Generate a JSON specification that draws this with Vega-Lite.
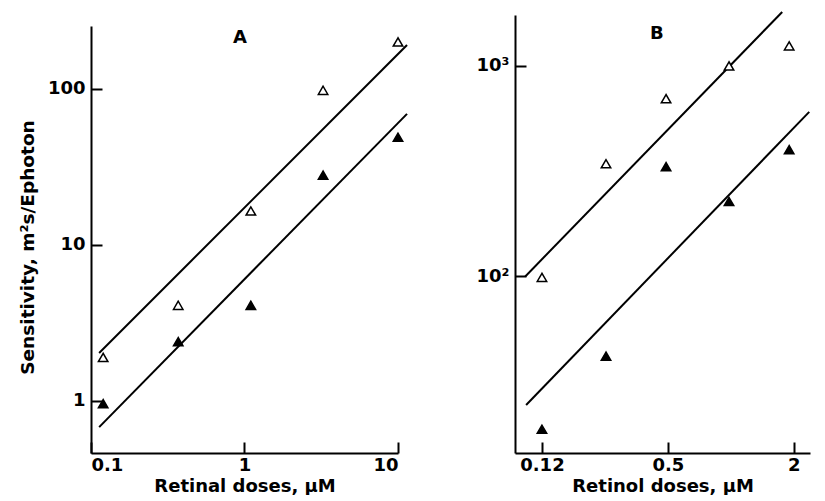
{
  "$schema": "https://vega.github.io/schema/vega-lite/v6.json",
  "background": "white",
  "padding": {"left": 18, "top": 8, "right": 5, "bottom": 0},
  "spacing": 64,
  "datasets": {
    "pointsA": [
      {"dose": 0.12, "sens": 1.9, "type": "open"},
      {"dose": 0.37, "sens": 4.1, "type": "open"},
      {"dose": 1.1, "sens": 16.5, "type": "open"},
      {"dose": 3.25, "sens": 98, "type": "open"},
      {"dose": 10, "sens": 200, "type": "open"},
      {"dose": 0.12, "sens": 0.96, "type": "filled"},
      {"dose": 0.37, "sens": 2.4, "type": "filled"},
      {"dose": 1.1, "sens": 4.1, "type": "filled"},
      {"dose": 3.25, "sens": 28, "type": "filled"},
      {"dose": 10, "sens": 49, "type": "filled"}
    ],
    "linesA": [
      {"dose": 0.113, "sens": 2.03, "fit": "upper"},
      {"dose": 11.45, "sens": 191, "fit": "upper"},
      {"dose": 0.113, "sens": 0.68, "fit": "lower"},
      {"dose": 11.45, "sens": 69.2, "fit": "lower"}
    ],
    "pointsB": [
      {"dose": 0.125, "sens": 99, "type": "open"},
      {"dose": 0.253, "sens": 343, "type": "open"},
      {"dose": 0.49, "sens": 699, "type": "open"},
      {"dose": 0.98, "sens": 1000, "type": "open"},
      {"dose": 1.9, "sens": 1245, "type": "open"},
      {"dose": 0.125, "sens": 18.8, "type": "filled"},
      {"dose": 0.253, "sens": 41.8, "type": "filled"},
      {"dose": 0.49, "sens": 332, "type": "filled"},
      {"dose": 0.98, "sens": 227, "type": "filled"},
      {"dose": 1.9, "sens": 400, "type": "filled"}
    ],
    "linesB": [
      {"dose": 0.104, "sens": 100, "fit": "upper"},
      {"dose": 1.76, "sens": 1803, "fit": "upper"},
      {"dose": 0.105, "sens": 24.5, "fit": "lower"},
      {"dose": 2.37, "sens": 605, "fit": "lower"}
    ],
    "labelA": [{"dose": 0.935, "sens": 212, "label": "A"}],
    "labelB": [{"dose": 0.443, "sens": 1419, "label": "B"}],
    "none": []
  },
  "hconcat": [
    {
      "spacing": 0,
      "vconcat": [
        {
          "width": 307,
          "height": 11,
          "data": {"name": "none"},
          "mark": {"type": "point", "opacity": 0},
          "encoding": {}
        },
        {
          "width": 307,
          "height": 427,
          "encoding": {
            "x": {"field": "dose", "type": "quantitative",
              "scale": {"type": "log", "domain": [0.1, 10], "nice": false},
              "axis": {"values": [0.1, 1, 10], "format": "~g", "title": "Retinal doses, μM"}},
            "y": {"field": "sens", "type": "quantitative",
              "scale": {"type": "log", "domain": [0.464, 253], "nice": false},
              "axis": {"values": [1, 10, 100], "format": "~g", "title": "Sensitivity, m²s/Ephoton", "titleY": 221}}
          },
          "layer": [
            {"data": {"name": "linesA"}, "mark": {"type": "line", "color": "black", "strokeWidth": 2, "clip": false},
             "encoding": {"detail": {"field": "fit"}}},
            {"data": {"name": "pointsA"}, "mark": {"type": "point", "shape": "triangle-up", "filled": true, "size": 90, "stroke": "black", "strokeWidth": 1.5, "opacity": 1},
             "encoding": {"fill": {"field": "type", "type": "nominal", "scale": {"domain": ["open", "filled"], "range": ["white", "black"]}, "legend": null}}},
            {"data": {"name": "labelA"}, "mark": {"type": "text", "font": "DejaVu Sans", "fontWeight": "bold", "fontSize": 18, "color": "black"},
             "encoding": {"text": {"field": "label"}}}
          ]
        }
      ]
    },
    {
      "width": 295,
      "height": 438,
      "encoding": {
        "x": {"field": "dose", "type": "quantitative",
          "scale": {"type": "log", "domain": [0.0929, 2.39], "nice": false},
          "axis": {"values": [0.125, 0.5, 2], "labelExpr": "datum.value == 0.125 ? '0.12' : format(datum.value, '~g')", "title": "Retinol doses, μM"}},
        "y": {"field": "sens", "type": "quantitative",
          "scale": {"type": "log", "domain": [14.5, 1745], "nice": false},
          "axis": {"values": [100, 1000], "labelExpr": "datum.value == 100 ? '10²' : '10³'", "title": null}}
      },
      "layer": [
        {"data": {"name": "linesB"}, "mark": {"type": "line", "color": "black", "strokeWidth": 2, "clip": false},
         "encoding": {"detail": {"field": "fit"}}},
        {"data": {"name": "pointsB"}, "mark": {"type": "point", "shape": "triangle-up", "filled": true, "size": 90, "stroke": "black", "strokeWidth": 1.5, "opacity": 1},
         "encoding": {"fill": {"field": "type", "type": "nominal", "scale": {"domain": ["open", "filled"], "range": ["white", "black"]}, "legend": null}}},
        {"data": {"name": "labelB"}, "mark": {"type": "text", "font": "DejaVu Sans", "fontWeight": "bold", "fontSize": 18, "color": "black"},
         "encoding": {"text": {"field": "label"}}}
      ]
    }
  ],
  "resolve": {"scale": {"fill": "independent"}},
  "config": {
    "view": {"stroke": null},
    "axis": {
      "grid": false,
      "domainColor": "black", "domainWidth": 2,
      "tickColor": "black", "tickWidth": 2, "tickSize": -11,
      "labelColor": "black", "labelFont": "DejaVu Sans", "labelFontWeight": "bold", "labelFontSize": 18,
      "titleColor": "black", "titleFont": "DejaVu Sans", "titleFontWeight": "bold", "titleFontSize": 18
    },
    "axisX": {"labelPadding": 14, "titlePadding": 3},
    "axisY": {"labelPadding": 17, "titleFontSize": 18.5, "titlePadding": 10}
  }
}
